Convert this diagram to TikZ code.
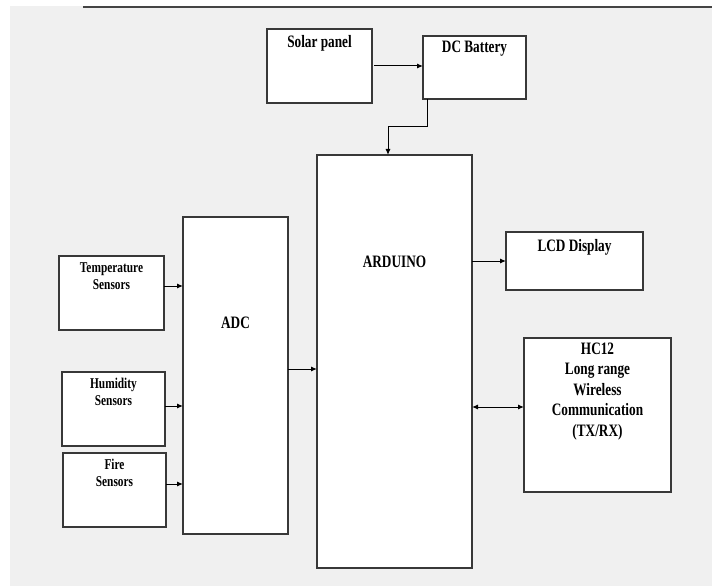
\documentclass[tikz,border=0pt]{standalone}
\usepackage{fontspec}
\newfontfamily\lblfont{Liberation Serif}[FakeStretch=0.76]
\usetikzlibrary{arrows.meta,calc}
\definecolor{bggray}{HTML}{F0F0F0}
\definecolor{edge}{HTML}{383838}
\definecolor{topline}{HTML}{444444}
\tikzset{
  blk/.style={draw=edge, line width=1.2bp, fill=white, rectangle, inner sep=0pt, outer sep=0pt},
  bigtxt/.style={font=\lblfont\bfseries\fontsize{17.5}{20.5}\selectfont, align=center, inner sep=0pt},
  smalltxt/.style={font=\lblfont\bfseries\fontsize{15}{17}\selectfont, align=center, inner sep=0pt},
  arr/.style={draw=black, line width=1bp, -{Latex[length=6bp,width=5bp]}},
  darr/.style={draw=black, line width=1bp, {Latex[length=6bp,width=5bp]}-{Latex[length=6bp,width=5bp]}}
}
\begin{document}
\begin{tikzpicture}[x=1bp,y=-1bp]
\useasboundingbox (0,0) rectangle (712,586);
\fill[bggray] (10,6) rectangle (712,586);
\draw[topline, line width=2.5bp] (83,7.2) -- (712,7.2);

% boxes
\node[blk, minimum width=105bp, minimum height=74bp] (sp) at (319.5,66) {};
\node[blk, minimum width=103bp, minimum height=63bp] (bat) at (474.5,67.5) {};
\node[blk, minimum width=155bp, minimum height=413bp] (ard) at (394.5,361.5) {};
\node[blk, minimum width=105bp, minimum height=317bp] (adc) at (235.5,375.5) {};
\node[blk, minimum width=105bp, minimum height=74bp] (temp) at (111.5,293) {};
\node[blk, minimum width=103bp, minimum height=74bp] (hum) at (113.5,409) {};
\node[blk, minimum width=103bp, minimum height=74bp] (fire) at (114.5,490) {};
\node[blk, minimum width=137bp, minimum height=58bp] (lcd) at (574.5,261) {};
\node[blk, minimum width=147bp, minimum height=154bp] (hc) at (597.5,415) {};

% texts
\node[bigtxt] (tsp) at ($(sp.north)+(0,14)$) {Solar panel};
\node[bigtxt] (tbat) at ($(bat.north)+(0,13)$) {DC Battery};
\node[bigtxt] (tard) at ($(ard.north)+(0,107)$) {ARDUINO};
\node[bigtxt] (tadc) at ($(adc.north)+(0,106)$) {ADC};
\node[smalltxt] (ttemp) at ($(temp.north)+(0,20.5)$) {Temperature\\Sensors};
\node[smalltxt] (thum) at ($(hum.north)+(0,19.5)$) {Humidity\\Sensors};
\node[smalltxt] (tfire) at ($(fire.north)+(0,20)$) {Fire\\Sensors};
\node[bigtxt] (tlcd) at ($(lcd.north)+(0,15)$) {LCD Display};
\node[bigtxt] (thc) at ($(hc.north)+(0,53.5)$) {HC12\\Long range\\Wireless\\Communication\\(TX/RX)};

% connectors
\draw[arr] ($(sp.east)+(2,0)$) -- (bat.west |- sp.east);
\draw[arr] ([xshift=4bp]bat.south west) -- ++(0,28) -| ([xshift=71bp]ard.north west);
\draw[arr] (temp.east |- 0,286) -- (adc.west |- 0,286);
\draw[arr] (hum.east |- 0,406) -- (adc.west |- 0,406);
\draw[arr] (fire.east |- 0,484) -- (adc.west |- 0,484);
\draw[arr] (adc.east |- 0,369) -- (ard.west |- 0,369);
\draw[arr] (ard.east |- lcd.west) -- (lcd.west);
\draw[darr] (ard.east |- 0,407) -- (hc.west |- 0,407);
\end{tikzpicture}
\end{document}
